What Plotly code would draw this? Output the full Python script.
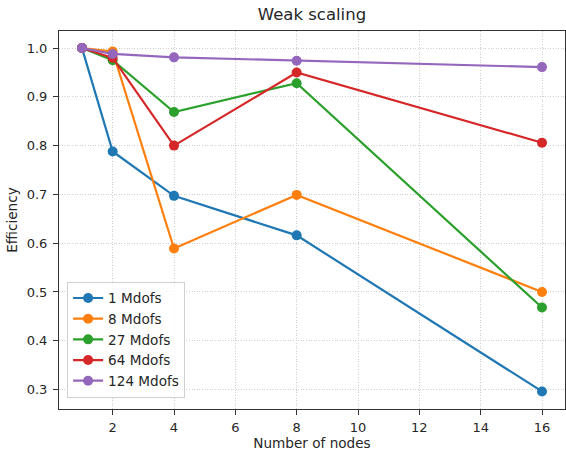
import plotly.graph_objects as go

nodes = [1, 2, 4, 8, 16]
series_names = ["1 Mdofs", "8 Mdofs", "27 Mdofs", "64 Mdofs", "124 Mdofs"]
eff_1 = [1.0, 0.788, 0.697, 0.616, 0.296]
eff_8 = [1.0, 0.993, 0.589, 0.699, 0.500]
eff_27 = [1.0, 0.975, 0.869, 0.928, 0.468]
eff_64 = [1.0, 0.980, 0.800, 0.950, 0.806]
eff_124 = [1.0, 0.988, 0.981, 0.974, 0.961]
colors = ["#1f77b4", "#ff7f0e", "#2ca02c", "#d62728", "#9467bd"]
x_ticks = [2, 4, 6, 8, 10, 12, 14, 16]
y_ticks = [0.3, 0.4, 0.5, 0.6, 0.7, 0.8, 0.9, 1.0]

fig = go.Figure()
for name, vals, c in zip(series_names, [eff_1, eff_8, eff_27, eff_64, eff_124], colors):
    fig.add_trace(go.Scatter(x=nodes, y=vals, name=name, mode="lines+markers",
                             line=dict(color=c, width=2.2), marker=dict(color=c, size=10)))

W, H = 566, 451
l, r, t, b = 59, 1, 31, 42
FS = 13.6
fig.update_layout(
    width=W, height=H,
    margin=dict(l=l, r=r, t=t, b=b),
    paper_bgcolor="white", plot_bgcolor="white",
    font=dict(family="DejaVu Sans", size=FS, color="#262626"),
    title=dict(text="Weak scaling", x=(l + (W - l - r) / 2) / W, xanchor="center",
               y=1 - 14 / H, yanchor="middle", font=dict(size=16.5, color="#262626")),
    xaxis=dict(range=[0.25, 16.75], tickvals=x_ticks, ticks="outside", ticklen=5,
               tickcolor="#333", showline=True, linecolor="#333", linewidth=1, mirror=True,
               showgrid=True, gridcolor="#cfcfcf", griddash="1px,1.6px", gridwidth=1, zeroline=False,
               tickfont=dict(size=13), ticklabelstandoff=1,
               title=dict(text="Number of nodes", font=dict(size=FS), standoff=3)),
    yaxis=dict(range=[0.26, 1.035], tickvals=y_ticks, tickformat=".1f", ticks="outside", ticklen=5,
               tickcolor="#333", showline=True, linecolor="#333", linewidth=1, mirror=True,
               showgrid=True, gridcolor="#cfcfcf", griddash="1px,1.6px", gridwidth=1, zeroline=False,
               tickfont=dict(size=13), ticklabelstandoff=3,
               title=dict(text="Efficiency", font=dict(size=FS), standoff=5)),
    legend=dict(x=0.016, y=0.03, xanchor="left", yanchor="bottom",
                bgcolor="rgba(255,255,255,0.85)", bordercolor="#d0d0d0", borderwidth=1,
                font=dict(size=FS), itemwidth=30, tracegroupgap=0),
    showlegend=True,
)
fig.write_html("out.html")
